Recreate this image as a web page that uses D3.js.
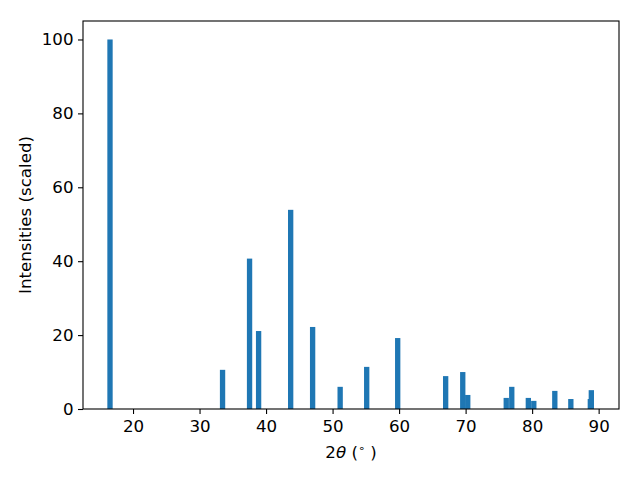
<!DOCTYPE html>
<html><head><meta charset="utf-8">
<script src="https://cdn.jsdelivr.net/npm/d3@7"></script>
<style>body{margin:0;background:#fff}svg{display:block}text{font-family:"DejaVu Sans",sans-serif}</style>
</head><body>
<svg id="c" width="640" height="480"></svg>
<script>
const twoTheta = [16.54, 33.46, 37.52, 38.88, 43.70, 47.0, 51.14, 55.13, 59.79, 67.0, 69.57, 70.32, 76.11, 76.94, 79.43, 80.25, 83.41, 85.82, 88.75, 88.90];
const intensity = [100, 10.6, 40.7, 21.1, 53.9, 22.2, 6.0, 11.4, 19.2, 8.9, 10.0, 3.8, 3.0, 6.0, 3.0, 2.2, 4.9, 2.7, 2.7, 5.1];
const xTicks = [20, 30, 40, 50, 60, 70, 80, 90];
const yTicks = [0, 20, 40, 60, 80, 100];
const barWidth = 0.8;

const svg = d3.select("#c");
const L = 83, R = 619, T = 21, B = 409;
const x = d3.scaleLinear().domain([12.48, 93.06]).range([L, R]);
const y = d3.scaleLinear().domain([0, 105]).range([B, T]);

svg.append("g").selectAll("rect").data(twoTheta).join("rect")
  .attr("x", (d) => x(d - barWidth / 2))
  .attr("width", (d) => x(d + barWidth / 2) - x(d - barWidth / 2))
  .attr("y", (d, i) => y(intensity[i]))
  .attr("height", (d, i) => y(0) - y(intensity[i]))
  .attr("fill", "#1f77b4");

const fs = "16.67px";
const xa = svg.append("g").attr("transform", `translate(0,${B})`)
  .call(d3.axisBottom(x).tickValues(xTicks).tickSize(5).tickPadding(6).tickFormat(d3.format("d")));
const ya = svg.append("g").attr("transform", `translate(${L},0)`)
  .call(d3.axisLeft(y).tickValues(yTicks).tickSize(5).tickPadding(4.5).tickFormat(d3.format("d")));
[xa, ya].forEach(a => {
  a.select(".domain").remove();
  a.selectAll("line").attr("stroke", "#000").attr("stroke-width", 1.1);
  a.selectAll("text").attr("font-size", fs).attr("fill", "#000").attr("font-family", "DejaVu Sans");
});

svg.append("rect").attr("x", L).attr("y", T).attr("width", R - L).attr("height", B - T)
  .attr("fill", "none").attr("stroke", "#000").attr("stroke-width", 1.1);

const xl = svg.append("text").attr("x", (L + R) / 2).attr("y", 458).attr("text-anchor", "middle")
  .attr("font-size", fs).attr("fill", "#000");
xl.append("tspan").text("2");
xl.append("tspan").attr("font-style", "italic").text("θ");
xl.append("tspan").text(" (");
xl.append("tspan").attr("font-size", "11px").attr("dy", -6).text("∘");
xl.append("tspan").attr("dy", 6).text(" )");

svg.append("text").attr("transform", `translate(31,${(T + B) / 2}) rotate(-90)`)
  .attr("text-anchor", "middle").attr("font-size", fs).attr("fill", "#000")
  .text("Intensities (scaled)");
</script>
</body></html>
